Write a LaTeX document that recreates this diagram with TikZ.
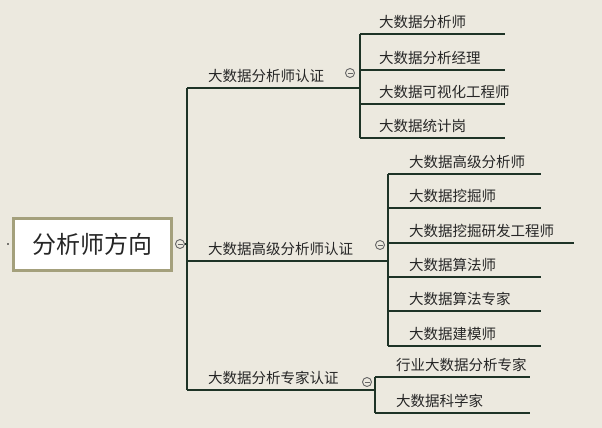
\documentclass[tikz,border=0pt]{standalone}
\usepackage{fontspec}
\setmainfont{Noto Sans CJK SC}
\begin{document}
\begin{tikzpicture}[x=1pt,y=-1pt,
  ln/.style={draw=lc,line width=1.5pt},
  leaf/.style={anchor=south west,inner xsep=3pt,inner ysep=5pt,font=\fontsize{14.5}{16}\selectfont,text=black!85},
  mid/.style={anchor=south west,inner xsep=3pt,inner ysep=5pt,font=\fontsize{14.5}{16}\selectfont,text=black!85},
  tog/.style={circle,draw=gray!80!black,line width=0.9pt,fill=bg,minimum size=9pt,inner sep=0pt,path picture={\draw[gray!80!black,line width=0.8pt] ([xshift=-2.5pt]path picture bounding box.center)--([xshift=2.5pt]path picture bounding box.center);}}]
\definecolor{bg}{HTML}{ECE9DF}
\definecolor{lc}{HTML}{1E3326}
\definecolor{bd}{HTML}{A4A07C}
\fill[bg] (0,0) rectangle (602,428);
\useasboundingbox (0,0) rectangle (602,428);
% root
\node[draw=bd,line width=3pt,fill=white,minimum width=158pt,minimum height=52pt,font=\fontsize{24}{26}\selectfont,text=black!85] (root) at (92,244) {分析师方向};
\fill[black] (8,244) circle (0.9pt);
\node[tog] (t0) at (180,244) {};
% trunk
\coordinate (ta) at (187,88);
\coordinate (tb) at (187,390);
\draw[ln] (t0) -- (187,244);
\draw[ln] (ta) -- (tb);
% level 1
\node[mid] (m1) at (205,88) {大数据分析师认证};
\node[mid] (m2) at (205,261) {大数据高级分析师认证};
\node[mid] (m3) at (205,390) {大数据分析专家认证};
\coordinate (v1) at (360,88);
\coordinate (v2) at (388,261);
\coordinate (v3) at (375,390);
\draw[ln] (ta) -- (v1);
\draw[ln] (187,261) -- (v2);
\draw[ln] (tb) -- (v3);
\node[tog] at (350,73) {};
\node[tog] at (380,245) {};
\node[tog] at (367,382) {};
% group 1
\draw[ln] (360,34) -- (360,138);
\foreach \t/\y/\n in {大数据分析师/34/a1,大数据分析经理/70/a2,大数据可视化工程师/104/a3,大数据统计岗/138/a4}{
  \node[leaf] (\n) at (376,\y) {\t};
  \draw[ln] (360,\y) -- (505,\y);
}
% group 2
\draw[ln] (388,174) -- (388,346);
\foreach \t/\y/\n in {大数据高级分析师/174/b1,大数据挖掘师/208/b2,大数据挖掘研发工程师/243/b3,大数据算法师/277/b4,大数据算法专家/311/b5,大数据建模师/346/b6}{
  \node[leaf] (\n) at (406,\y) {\t};
}
\foreach \n/\y in {b1/174,b2/208,b4/277,b5/311,b6/346}{\draw[ln] (388,\y) -- (541,\y);}
\draw[ln] (388,243) -- (574,243);
% group 3
\draw[ln] (375,377) -- (375,413);
\node[leaf] (c1) at (393,377) {行业大数据分析专家};
\node[leaf] (c2) at (393,413) {大数据科学家};
\draw[ln] (375,377) -- (530,377);
\draw[ln] (375,413) -- (530,413);
\end{tikzpicture}
\end{document}
